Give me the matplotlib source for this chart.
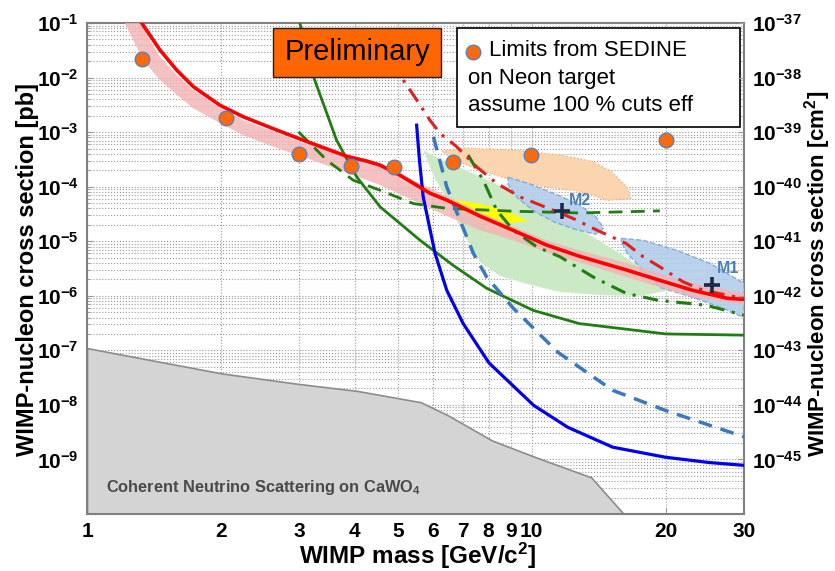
import numpy as np
import matplotlib
matplotlib.use("Agg")
import matplotlib.pyplot as plt
from matplotlib.patches import Rectangle
from matplotlib.ticker import FixedLocator, NullLocator, LogLocator, NullFormatter

plt.rcParams['font.family'] = ['Liberation Sans', 'DejaVu Sans']
plt.rcParams['font.weight'] = 'bold'
plt.rcParams['mathtext.fontset'] = 'custom'
plt.rcParams['mathtext.rm'] = 'Liberation Sans:bold'
plt.rcParams['mathtext.bf'] = 'Liberation Sans:bold'
plt.rcParams['mathtext.it'] = 'Liberation Sans:italic:bold'
plt.rcParams['mathtext.default'] = 'bf'

# --- data (mass in GeV/c^2, cross section in pb) ---
sedine_mass = [1.33, 2.05, 3.0, 3.92, 4.9, 6.65, 9.96, 20.0]
sedine_xsec = [2.2e-2, 1.8e-3, 3.9e-4, 2.4e-4, 2.3e-4, 2.8e-4, 3.8e-4, 7.1e-4]

red_mass = [1.31, 1.327, 1.459, 1.591, 1.734, 1.991, 2.246, 2.67, 3.064, 3.84, 4.26, 4.56,
            5.05, 5.41, 5.90, 6.45, 7.65, 9.07, 10.8, 12.8, 16.4, 19.4, 23.0, 27.5, 30]
red_xsec = [1.25e-1, 1.0e-1, 3.2e-2, 1.37e-2, 6.8e-3, 3.1e-3, 1.91e-3, 1.09e-3, 7.1e-4, 3.6e-4,
            2.94e-4, 2.48e-4, 1.63e-4, 1.16e-4, 7.6e-5, 5.65e-5, 2.88e-5, 1.59e-5, 8.5e-6,
            5.3e-6, 2.94e-6, 1.92e-6, 1.26e-6, 9.0e-7, 8.6e-7]

band_mass = [1.217, 1.336, 1.459, 1.593, 1.731, 1.991, 2.243, 2.674, 3.06, 3.71, 4.56, 5.41,
             6.45, 7.65, 9.07, 10.8, 12.8, 16.4, 23.0, 30]
band_hi = [0.214, 0.081, 0.0238, 0.0111, 5.9e-3, 2.75e-3, 1.66e-3, 9.6e-4, 6.3e-4, 4.1e-4,
           2.48e-4, 1.32e-4, 6.7e-5, 3.4e-5, 1.88e-5, 1.04e-5, 6.8e-6, 3.95e-6, 1.69e-6, 1.11e-6]
band_lo = [0.1, 0.0209, 9.0e-3, 4.8e-3, 2.75e-3, 1.46e-3, 8.8e-4, 5.1e-4, 3.5e-4, 2.0e-4,
           1.07e-4, 5.65e-5, 2.88e-5, 1.59e-5, 1.04e-5, 6.3e-6, 4.1e-6, 2.18e-6, 9.4e-7, 7.0e-7]

blue_mass = [5.51, 5.59, 5.70, 6.06, 6.44, 7.01, 8.01, 10.1, 12.04, 15.2, 19.95, 25.0, 30]
blue_xsec = [1.34e-3, 3.06e-4, 6.5e-5, 6.0e-6, 1.26e-6, 3.1e-7, 5.9e-8, 9.8e-9, 3.9e-9,
             1.68e-9, 1.1e-9, 8.8e-10, 7.8e-10]

bdash_mass = [6.01, 6.44, 6.90, 7.39, 7.92, 9.09, 11.45, 15.2, 20, 30]
bdash_xsec = [8.2e-4, 9.9e-5, 2.4e-5, 6.0e-6, 2.2e-6, 5.9e-7, 9.2e-8, 1.85e-8, 7.9e-9, 2.6e-9]

gsol_mass = [3.01, 3.23, 3.64, 4.04, 4.56, 5.61, 6.66, 7.92, 10.08, 12.77, 20, 30]
gsol_xsec = [1.0e-1, 1.04e-2, 7.1e-4, 1.51e-4, 4.27e-5, 1.04e-5, 3.6e-6, 1.37e-6,
             5.4e-7, 3.1e-7, 2.0e-7, 1.9e-7]

gdash_mass = [2.99, 3.46, 3.97, 4.56, 5.42, 6.44, 9.09, 12.8, 19.4]
gdash_xsec = [1.01e-3, 3.06e-4, 1.31e-4, 8.6e-5, 4.9e-5, 4.0e-5, 3.55e-5, 3.3e-5, 3.6e-5]

gdd_mass = [7.19, 7.78, 8.34, 9.09, 10.26, 11.57, 13.75, 16.34, 19.2, 24.7, 30]
gdd_xsec = [3.8e-4, 1.31e-4, 3.7e-5, 1.59e-5, 7.9e-6, 5.2e-6, 2.2e-6, 1.1e-6, 8.3e-7, 6.7e-7, 4.4e-7]

rdd_mass = [4.85, 5.14, 5.51, 5.90, 6.22, 6.78, 7.52, 8.34, 9.41, 11.17, 12.4, 14.0, 16.3,
            17.8, 19.4, 21.9, 24.3, 30]
rdd_xsec = [2.1e-2, 9.0e-3, 3.9e-3, 1.66e-3, 9.5e-4, 5.4e-4, 2.3e-4, 1.15e-4, 6.5e-5, 3.7e-5,
            2.6e-5, 1.6e-5, 9.1e-6, 5.2e-6, 3.4e-6, 1.8e-6, 1.26e-6, 8.9e-7]

nu_mass = [1.0, 2.0, 2.96, 4.06, 5.63, 6.49, 8.14, 10.2, 13.6, 16.1]
nu_xsec = [1.1e-7, 3.8e-8, 2.45e-8, 1.8e-8, 1.12e-8, 6.4e-9, 2.23e-9, 1.1e-9, 4.7e-10, 1.0e-10]

green_mass = [5.69, 6.55, 7.65, 8.93, 10.4, 12.2, 14.2, 16.4, 18.9, 20.5,
              17.5, 14.2, 11.6, 9.93, 8.48, 7.65, 7.0, 6.45, 6.0]
green_xsec = [4.7e-4, 2.7e-4, 1.56e-4, 8.6e-5, 4.0e-5, 2.05e-5, 1.04e-5, 4.9e-6, 2.3e-6, 1.26e-6,
              9.8e-7, 1.02e-6, 1.16e-6, 1.56e-6, 2.3e-6, 4.1e-6, 1.4e-5, 5.6e-5, 1.6e-4]

peach_mass = [6.28, 7.0, 9.07, 11.6, 13.7, 15.1, 16.3, 16.7, 14.8, 12.8, 10.8, 9.07, 7.65, 6.7]
peach_xsec = [4.5e-4, 5.1e-4, 4.7e-4, 3.8e-4, 2.9e-4, 1.9e-4, 1.02e-4, 6.1e-5, 5.6e-5, 8.3e-5,
              9.8e-5, 1.3e-4, 2.0e-4, 3.1e-4]

yellow_mass = [6.55, 7.08, 8.05, 8.93, 9.8, 8.71, 7.65, 6.90, 6.55]
yellow_xsec = [5.9e-5, 5.4e-5, 4.4e-5, 3.4e-5, 2.33e-5, 2.1e-5, 2.9e-5, 3.9e-5, 5.0e-5]

m2_mass = [8.84, 9.93, 11.6, 12.8, 13.9, 14.5, 13.9, 12.5, 11.3, 10.2, 9.31, 8.84]
m2_xsec = [1.49e-4, 1.11e-4, 6.7e-5, 4.6e-5, 2.9e-5, 1.73e-5, 1.34e-5, 1.66e-5, 2.2e-5, 3.4e-5,
           6.1e-5, 1.11e-4]

m1_mass = [15.9, 17.8, 21.2, 25.2, 30, 30, 26.5, 23.0, 19.4, 17.8, 16.4, 15.9]
m1_xsec = [1.13e-5, 1.04e-5, 6.8e-6, 3.9e-6, 1.7e-6, 4.0e-7, 6.2e-7, 9.4e-7, 1.43e-6, 2.9e-6,
           6.0e-6, 9.6e-6]

bench_names = ['M1', 'M2']
bench_mass = [25.4, 11.7]
bench_xsec = [1.56e-6, 3.55e-5]
bench_offsets = [(3.5, 8.5), (5, 4.5)]

x_ticks = [1, 2, 3, 4, 5, 6, 7, 8, 9, 10, 20, 30]
y_exps = list(range(-9, 0))          # left axis labels 10^-9 .. 10^-1 pb
y2_exps = list(range(-45, -36))      # right axis labels 10^-45 .. 10^-37 cm^2

# --- figure ---
fig = plt.figure(figsize=(8.35, 5.71), dpi=100)
ax = fig.add_axes([0.1042, 0.0998, 0.7868, 0.8599])
ax.set_xscale('log')
ax.set_yscale('log')
ax.set_xlim(1, 30)
ax.set_ylim(1e-10, 1e-1)
ax.set_axisbelow(True)

# filled regions
ax.fill_between(nu_mass, 1e-12, nu_xsec, facecolor='#d4d4d4', edgecolor='#8c8c8c', lw=1.2, zorder=1)
ax.fill(green_mass, green_xsec, facecolor='#cbe9c4', edgecolor='white', ls=':', lw=1, zorder=2)
ax.fill(peach_mass, peach_xsec, facecolor='#fbd5b0', edgecolor='#f3b27a', ls=':', lw=1, zorder=2)
ax.fill(yellow_mass, yellow_xsec, facecolor='#ffff00', edgecolor='none', zorder=3)
ax.fill(m2_mass, m2_xsec, facecolor='#b3cdea', edgecolor='#7ea6d8', ls='--', lw=1, alpha=0.9, zorder=3)
ax.fill(m1_mass, m1_xsec, facecolor='#b3cdea', edgecolor='#7ea6d8', ls='--', lw=1, alpha=0.9, zorder=3)
ax.fill_between(band_mass, band_lo, band_hi, facecolor='#f2b3b3', edgecolor='none', alpha=0.8, zorder=4)

# curves
ax.plot(gsol_mass, gsol_xsec, color='#1f7d12', lw=2.0, zorder=5)
ax.plot(gdash_mass, gdash_xsec, color='#1f7d12', lw=2.0, dashes=(5, 3), zorder=5)
ax.plot(gdd_mass, gdd_xsec, color='#1f7d12', lw=2.2, dashes=(5, 2.5, 1, 2.5), zorder=5)
ax.plot(blue_mass, blue_xsec, color='#0000ee', lw=2.3, zorder=5)
ax.plot(bdash_mass, bdash_xsec, color='#3a78c2', lw=2.5, dashes=(4, 2.6), zorder=5)
ax.plot(rdd_mass, rdd_xsec, color='#e01f1f', lw=2.2, dashes=(5, 2.5, 1, 2.5), zorder=6)
ax.plot(red_mass, red_xsec, color='#ff0000', lw=2.6, zorder=7)

# benchmark points
ax.plot(bench_mass, bench_xsec, ls='none', marker='+', ms=12, mew=2.6, color='#1c2a46', zorder=8)
for name, m, s, off in zip(bench_names, bench_mass, bench_xsec, bench_offsets):
    ax.annotate(name, (m, s), xytext=off, textcoords='offset points', color='#4a7ebb',
                fontsize=11.5, fontweight='bold', zorder=8)

# SEDINE limits
ax.plot(sedine_mass, sedine_xsec, ls='none', marker='o', ms=10.5, mfc='#fa6a0c', mec='#5b80b8',
        mew=1.0, zorder=9, clip_on=False)

ax.text(0.029, 0.055, 'Coherent Neutrino Scattering on CaWO$_4$', transform=ax.transAxes,
        fontsize=11.8, color='#4a4a4a', fontweight='bold', va='center', zorder=3)

# "Preliminary" box
ax.add_patch(Rectangle((0.283, 0.890), 0.256, 0.100, transform=ax.transAxes,
                       facecolor='#ff6600', edgecolor='#222222', lw=1.0, zorder=10))
ax.text(0.411, 0.940, 'Preliminary', transform=ax.transAxes, fontsize=21, fontweight='normal',
        ha='center', va='center', color='black', zorder=11)

# legend box
ax.add_patch(Rectangle((0.563, 0.788), 0.431, 0.202, transform=ax.transAxes,
                       facecolor='white', edgecolor='black', lw=1.2, zorder=10))
ax.plot([0.5875], [0.941], transform=ax.transAxes, marker='o', ms=10.5, mfc='#fa6a0c',
        mec='#5b80b8', mew=1.0, zorder=11)
ax.text(0.612, 0.943, 'Limits from SEDINE', transform=ax.transAxes, fontsize=16,
        fontweight='normal', va='center', zorder=11)
ax.text(0.580, 0.888, 'on Neon target', transform=ax.transAxes, fontsize=16,
        fontweight='normal', va='center', zorder=11)
ax.text(0.580, 0.833, 'assume 100 % cuts eff', transform=ax.transAxes, fontsize=16,
        fontweight='normal', va='center', zorder=11)

# axes, ticks, grid
ax.xaxis.set_major_locator(FixedLocator(x_ticks))
ax.xaxis.set_minor_locator(NullLocator())
ax.set_xticklabels([str(t) for t in x_ticks])
ax.yaxis.set_major_locator(FixedLocator([10.0 ** e for e in y_exps]))
ax.set_yticklabels(['$10^{%d}$' % e for e in y_exps])
ax.yaxis.set_minor_locator(LogLocator(base=10, subs=np.arange(2, 10), numticks=20))
ax.yaxis.set_minor_formatter(NullFormatter())
ax.grid(True, which='both', color='#9a9a9a', ls=':', lw=0.8)
ax.tick_params(which='both', direction='in', color='#9a9a9a', labelsize=15, pad=6)
ax.tick_params(which='major', length=4)
ax.tick_params(which='minor', length=2)
for sp in ax.spines.values():
    sp.set_color('#808080')
    sp.set_linewidth(1.5)

ax2 = ax.twinx()
ax2.set_yscale('log')
ax2.set_ylim(1e-46, 1e-37)
ax2.yaxis.set_major_locator(FixedLocator([10.0 ** e for e in y2_exps]))
ax2.set_yticklabels(['$10^{%d}$' % e for e in y2_exps])
ax2.yaxis.set_minor_locator(NullLocator())
ax2.tick_params(direction='in', color='#9a9a9a', labelsize=15, pad=6, length=4)
for sp in ax2.spines.values():
    sp.set_visible(False)

ax.set_xlabel('WIMP mass [GeV/c$^2$]', fontsize=17.5, fontweight='bold')
ax.xaxis.set_label_coords(0.504, -0.055)
ax.set_ylabel('WIMP-nucleon cross section [pb]', fontsize=17, fontweight='bold')
ax.yaxis.set_label_coords(-0.0731, 0.497)
ax2.set_ylabel('WIMP-nucleon cross section [cm$^2$]', fontsize=16, fontweight='bold')
ax2.yaxis.set_label_coords(1.089, 0.49)

fig.savefig('out.png', dpi=100)
